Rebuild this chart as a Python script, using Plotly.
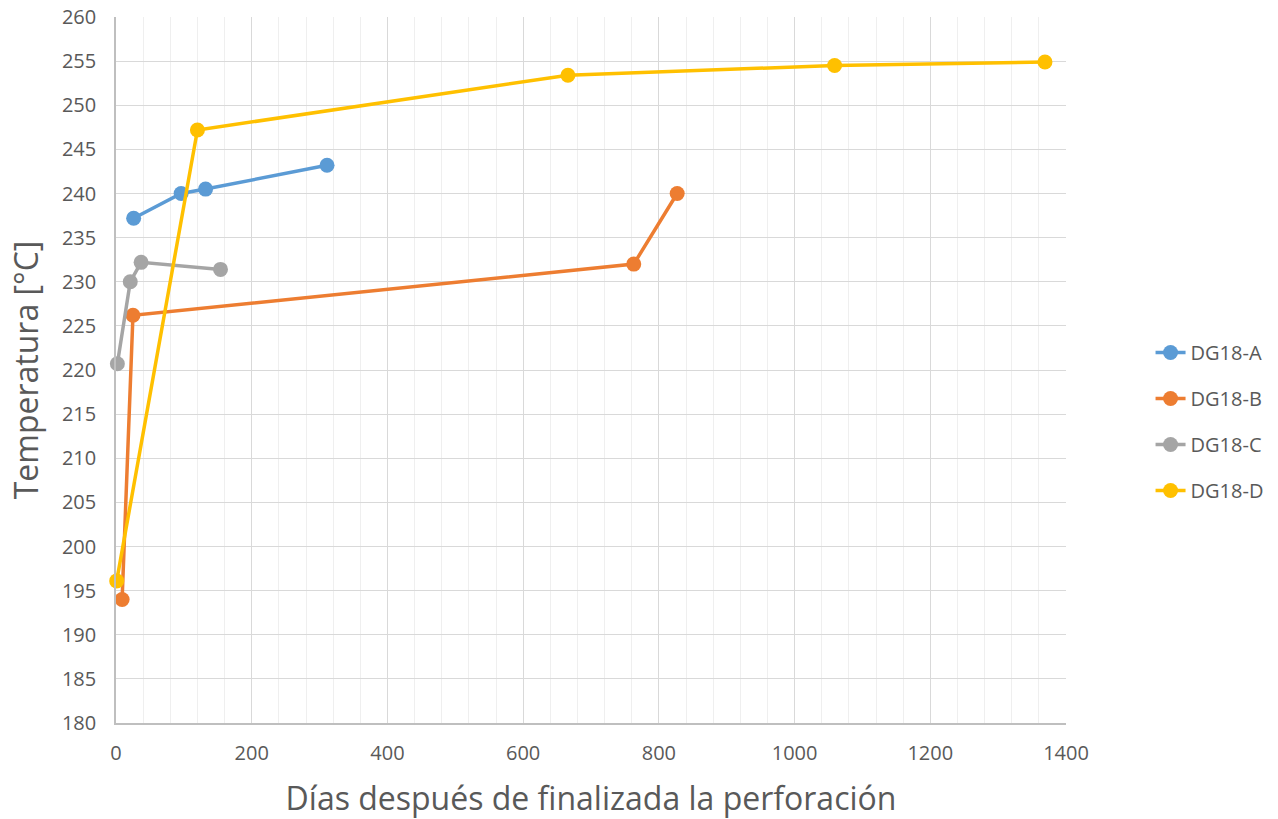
import plotly.graph_objects as go

# Temperature recovery after drilling, per well
dias_a = [26, 96, 132, 311]
temp_a = [237.2, 240.0, 240.5, 243.2]

dias_b = [9, 25, 763, 827]
temp_b = [194.0, 226.2, 232.0, 240.0]

dias_c = [2, 21, 37, 154]
temp_c = [220.7, 230.0, 232.2, 231.4]

dias_d = [1, 120, 666, 1059, 1369]
temp_d = [196.1, 247.2, 253.4, 254.5, 254.9]

series = [
    ("DG18-A", dias_a, temp_a, "#5B9BD5"),
    ("DG18-B", dias_b, temp_b, "#ED7D31"),
    ("DG18-C", dias_c, temp_c, "#A5A5A5"),
    ("DG18-D", dias_d, temp_d, "#FFC000"),
]

x_ticks = [0, 200, 400, 600, 800, 1000, 1200, 1400]
y_ticks = list(range(180, 261, 5))

fig = go.Figure()
for name, xs, ys, color in series:
    fig.add_trace(go.Scatter(
        x=xs, y=ys, name=name, mode="lines+markers",
        legendgroup=name,
        line=dict(color=color, width=3.5),
        marker=dict(color=color, size=15),
        cliponaxis=False,
    ))

font_family = "Open Sans, Liberation Sans, sans-serif"
text_grey = "#595959"

fig.update_layout(
    width=1278, height=819,
    margin=dict(l=116, r=212, t=17, b=96, autoexpand=False),
    plot_bgcolor="white", paper_bgcolor="white",
    font=dict(family=font_family, color=text_grey),
    legend=dict(
        x=1.089, y=0.427, xanchor="left", yanchor="middle",
        font=dict(size=20, color=text_grey),
        tracegroupgap=17,
        bgcolor="rgba(0,0,0,0)",
    ),
    xaxis=dict(
        range=[0, 1400], tickvals=x_ticks,
        showgrid=True, gridcolor="#D9D9D9", gridwidth=1.3,
        minor=dict(dtick=40, showgrid=True, gridcolor="#EFEFEF", gridwidth=1.3),
        showline=True, linecolor="#BFBFBF", linewidth=1.5,
        zeroline=False, ticks="", automargin=False,
        ticklabelstandoff=11,
        tickfont=dict(size=20, color=text_grey),
        title=dict(text="Días después de finalizada la perforación",
                   font=dict(size=32, color=text_grey), standoff=26),
    ),
    yaxis=dict(
        range=[180, 260], tickvals=y_ticks,
        showgrid=True, gridcolor="#D9D9D9", gridwidth=1.3,
        showline=True, linecolor="#BFBFBF", linewidth=1.5,
        zeroline=False, ticks="", automargin=False,
        ticklabelstandoff=14,
        tickfont=dict(size=20, color=text_grey),
        title=dict(text="Temperatura [°C]",
                   font=dict(size=32, color=text_grey), standoff=14),
    ),
)

fig.write_html("out.html")
